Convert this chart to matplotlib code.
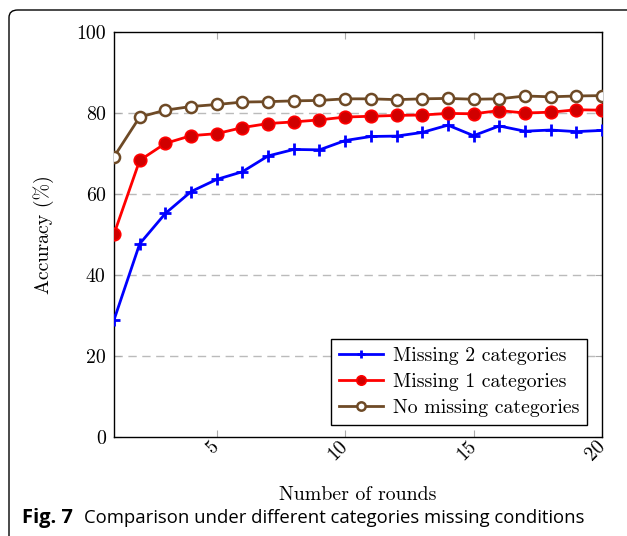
import matplotlib
matplotlib.use("Agg")
import matplotlib.pyplot as plt
from matplotlib.patches import FancyBboxPatch

rounds = list(range(1, 21))
missing2 = [28.9, 47.7, 55.2, 60.6, 63.6, 65.5, 69.4, 71.0, 70.9, 73.2,
            74.2, 74.3, 75.2, 77.0, 74.4, 76.8, 75.5, 75.8, 75.4, 75.7]
missing1 = [50.1, 68.3, 72.5, 74.4, 74.9, 76.4, 77.4, 77.8, 78.3, 79.0,
            79.2, 79.4, 79.5, 79.9, 79.8, 80.6, 80.0, 80.2, 80.8, 80.7]
nomissing = [69.2, 79.0, 80.7, 81.6, 82.1, 82.7, 82.8, 83.0, 83.1, 83.5,
             83.5, 83.3, 83.5, 83.6, 83.4, 83.5, 84.2, 84.0, 84.2, 84.3]
labels = ["Missing 2 categories", "Missing 1 categories", "No missing categories"]
xticks = [5, 10, 15, 20]
yticks = [0, 20, 40, 60, 80, 100]

plt.rcParams['font.family'] = ['cmr10', 'DejaVu Serif']
plt.rcParams['axes.formatter.use_mathtext'] = True

W, H = 627, 536
FS = 14.3
fig = plt.figure(figsize=(W / 100, H / 100), dpi=100)

# rounded frame around figure
frame = FancyBboxPatch((9 / W, -20 / H), 660 / W, (H - 10 + 20) / H,
                       boxstyle="round,pad=0,rounding_size=0.014",
                       transform=fig.transFigure, fill=False,
                       edgecolor='black', linewidth=1.0, clip_on=False)
fig.patches.append(frame)

ax = fig.add_axes([114 / W, 1 - 437 / H, (602 - 114) / W, (437 - 32) / H])

brown = '#6E4A26'
ax.plot(rounds, missing2, color='#0000FF', lw=2, marker='+', ms=8.5, mew=2,
        label=labels[0], zorder=3)
ax.plot(rounds, missing1, color='#FF0000', lw=2, marker='o', ms=9,
        markerfacecolor='#D00000', markeredgecolor='#FF0000', mew=1.2,
        label=labels[1], zorder=3)
ax.plot(rounds, nomissing, color=brown, lw=2, marker='o', ms=8,
        markerfacecolor='white', markeredgecolor=brown, mew=1.8,
        label=labels[2], zorder=3)

ax.set_xlim(1, 20)
ax.set_ylim(0, 100)
ax.set_xticks(xticks)
ax.set_xticklabels([str(t) for t in xticks], rotation=45, ha='right',
                   va='center', rotation_mode='anchor')
ax.set_yticks(yticks)
ax.set_yticklabels([str(t) for t in yticks])
ax.tick_params(axis='both', direction='in', length=5, color='#AAAAAA',
               labelsize=FS, top=True, right=True, pad=6)
ax.tick_params(axis='x', pad=5)
for t in [20, 40, 60, 80]:
    ax.axhline(t, color='#BBBBBB', lw=1, ls=(0, (6, 4)), zorder=1)
for s in ax.spines.values():
    s.set_linewidth(1.0)
    s.set_color('black')

ax.set_ylabel("Accuracy (%)", fontsize=FS, labelpad=16)
ax.set_xlabel("Number of rounds", fontsize=FS, labelpad=16)

leg = ax.legend(loc='lower right', bbox_to_anchor=(0.969, 0.03),
                borderaxespad=0, fancybox=False, edgecolor='black',
                framealpha=1, fontsize=FS, handlelength=2.2,
                labelspacing=0.4, borderpad=0.4, handletextpad=0.5,
                markerscale=0.75)
leg.get_frame().set_linewidth(1.0)

fig.text(22 / W, 1 - 523 / H, "Fig. 7", fontsize=14.5, fontweight='bold',
         family='Open Sans', ha='left', va='baseline')
fig.text(84 / W, 1 - 523 / H,
         "Comparison under different categories missing conditions",
         fontsize=13.3, family='Open Sans', ha='left', va='baseline')

fig.savefig("out.png", dpi=100)
